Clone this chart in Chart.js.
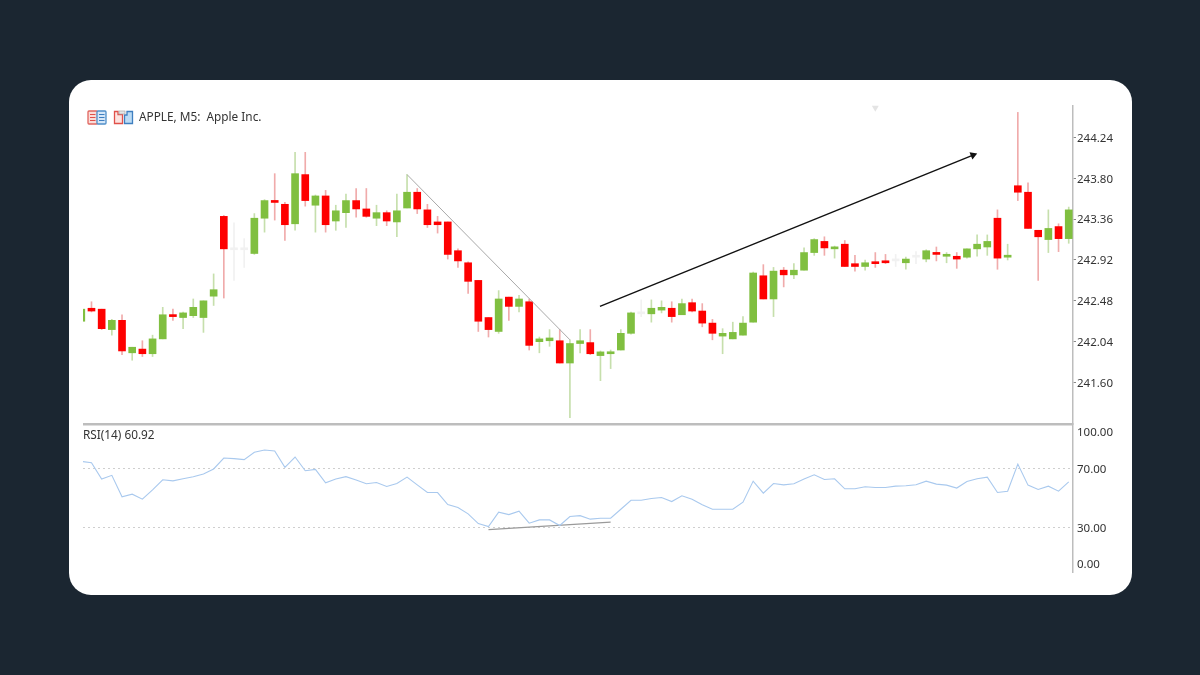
<!DOCTYPE html>
<html>
<head>
<meta charset="utf-8">
<title>APPLE, M5</title>
<script src="https://cdn.jsdelivr.net/npm/chart.js@4/dist/chart.umd.min.js"></script>
<style>
  html, body { margin: 0; height: 100%; background: #1b2631; overflow: hidden; }
  #card { position: absolute; left: 69px; top: 80px; width: 1063px; height: 515px; background: #fff; border-radius: 22px; }
  canvas { position: absolute; left: 0; top: 0; }
  .label { position: absolute; font: 11.8px "Noto Sans", sans-serif; color: #333; white-space: pre; }
  svg { position: absolute; }
</style>
</head>
<body>
<div id="card"></div>
<canvas id="chart" width="1200" height="675"></canvas>
<svg style="left:87px;top:110px" width="47" height="15" viewBox="0 0 47 15">
  <rect x="1" y="1" width="9.5" height="13" rx="1" fill="#fbdcd8" stroke="#e0655f" stroke-width="1.3"/>
  <rect x="10" y="1" width="9" height="13" rx="1" fill="#d5e7f8" stroke="#4f8fc9" stroke-width="1.3"/>
  <path d="M3 4.5h5.5M3 7.5h5.5M3 10.5h5.5" stroke="#e0504a" stroke-width="1.2"/>
  <path d="M12 4.5h5.5M12 7.5h5.5M12 10.5h5.5" stroke="#3f7fc0" stroke-width="1.2"/>
  <path d="M27.5 1.5h3.5v3h4.5v9h-8z" fill="#fde3e0" stroke="#e0504a" stroke-width="1.3"/>
  <path d="M37.5 5h2.5v-3.5h5.5v12h-8z" fill="#bcdcf5" stroke="#3f7fc0" stroke-width="1.3"/>
  <rect x="32" y="1" width="6" height="3" fill="#e6e6e6" stroke="#aaa" stroke-width=".7"/>
</svg>
<div class="label" style="left:139px;top:108px">APPLE, M5:  Apple Inc.</div>
<div class="label" style="left:83px;top:426px">RSI(14) 60.92</div>
<script>
// candles
const opens = [
  242.26,242.40,242.39,242.17,242.27,241.92,241.96,241.91,242.07,242.33,
  242.30,242.32,242.30,242.53,243.39,243.03,243.03,242.99,243.37,243.56,
  243.52,243.31,243.84,243.51,243.61,243.34,243.43,243.56,243.47,243.37,
  243.43,243.33,243.48,243.65,243.46,243.33,243.33,243.02,242.89,242.70,
  242.30,242.15,242.52,242.42,242.47,242.04,242.05,242.05,241.81,242.02,
  242.03,241.89,241.91,241.95,242.13,242.34,242.34,242.38,242.40,242.33,
  242.46,242.37,242.24,242.10,242.07,242.11,242.25,242.75,242.50,242.81,
  242.76,242.81,243.00,243.12,243.04,243.09,242.88,242.85,242.90,242.90,
  242.91,242.89,242.95,242.93,243.00,242.96,242.96,242.95,243.04,243.06,
  243.37,242.95,243.72,243.65,243.24,243.14,243.28,243.15
];
const highs = [
  242.39,242.47,242.39,242.28,242.33,241.98,242.05,242.11,242.41,242.39,
  242.36,242.50,242.48,242.77,243.40,243.32,243.15,243.42,243.57,243.85,
  243.54,244.08,244.08,243.62,243.67,243.51,243.63,243.69,243.69,243.51,
  243.45,243.63,243.84,243.69,243.52,243.39,243.33,243.04,242.90,242.70,
  242.30,242.59,242.52,242.54,242.50,242.09,242.17,242.17,242.06,242.17,
  242.17,241.94,241.95,242.17,242.36,242.49,242.49,242.48,242.47,242.50,
  242.50,242.45,242.28,242.18,242.25,242.31,242.79,242.87,242.84,242.84,
  242.88,243.05,243.15,243.17,243.07,243.13,242.97,242.92,243.00,242.98,
  242.98,242.95,243.01,243.03,243.06,243.00,243.00,243.04,243.19,243.19,
  243.46,243.09,244.51,243.75,243.24,243.46,243.31,243.49
];
const lows = [
  242.26,242.36,242.17,242.11,241.90,241.84,241.88,241.88,242.07,242.27,
  242.18,242.30,242.14,242.43,242.51,242.70,242.84,242.98,243.22,243.35,
  243.13,243.24,243.50,243.22,243.22,243.24,243.27,243.38,243.38,243.29,
  243.29,243.17,243.48,243.42,243.27,243.21,242.93,242.84,242.56,242.15,
  242.09,242.13,242.27,242.36,241.95,241.92,241.99,241.81,241.22,241.92,
  241.90,241.62,241.75,241.95,242.12,242.31,242.25,242.35,242.25,242.33,
  242.36,242.20,242.06,241.91,242.07,242.11,242.25,242.50,242.31,242.63,
  242.72,242.81,242.97,242.97,242.94,242.85,242.80,242.81,242.84,242.88,
  242.85,242.82,242.88,242.90,242.91,242.89,242.83,242.94,242.96,242.97,
  242.82,242.92,243.56,243.26,242.70,243.00,243.01,243.10
];
const closes = [
  242.39,242.37,242.18,242.27,241.94,241.98,241.91,242.07,242.33,242.31,
  242.35,242.41,242.48,242.60,243.04,243.03,243.03,243.37,243.56,243.54,
  243.30,243.85,243.56,243.61,243.30,243.45,243.56,243.47,243.39,243.43,
  243.34,243.45,243.65,243.47,243.30,243.30,242.98,242.91,242.69,242.26,
  242.17,242.50,242.42,242.50,242.00,242.07,242.08,241.81,242.02,242.05,
  241.91,241.93,241.93,242.13,242.35,242.34,242.40,242.41,242.31,242.45,
  242.37,242.24,242.13,242.13,242.14,242.24,242.78,242.50,242.80,242.76,
  242.81,243.00,243.14,243.05,243.06,242.85,242.85,242.89,242.88,242.89,
  242.91,242.93,242.95,243.02,242.98,242.98,242.93,243.04,243.09,243.12,
  242.94,242.96,243.65,243.26,243.17,243.26,243.15,243.46
];
const rsiValues = [
  74.7,73.8,62.8,65.3,50.8,52.6,49.2,55.5,62.3,61.6,
  63.0,64.4,66.2,69.6,77.0,76.6,75.9,80.9,82.4,81.8,
  70.7,77.7,68.4,69.3,60.3,62.8,64.4,62.1,59.6,60.5,
  57.8,59.8,64.1,58.9,53.7,53.7,45.6,43.6,39.3,32.7,
  30.7,40.4,38.8,41.1,33.0,35.2,35.2,31.4,37.5,38.1,
  35.7,36.3,36.3,42.4,48.5,48.5,49.7,50.3,47.6,51.5,
  49.2,45.4,42.4,42.4,42.4,47.2,61.4,53.3,59.8,58.9,
  59.6,62.8,65.7,62.5,63.0,56.2,56.2,57.6,57.1,57.1,
  58.0,58.3,58.9,61.4,59.4,58.7,56.7,61.2,63.0,64.1,
  53.7,54.6,72.9,58.7,55.8,58.0,54.6,60.92
];
const priceTicks = [244.24, 243.80, 243.36, 242.92, 242.48, 242.04, 241.60];
const rsiTicks = [100, 70, 30, 0];

// drawn lines: [bar index, value]
const fallLine = [[32, 243.84], [48, 242.06]];
const riseArrow = [[50.95, 242.42], [87.6, 244.05]];
const rsiLine = [[40, 28.6], [52, 33.7]];
const topMarker = [[78, 244.56]];

const RED = '#fe0000', GREEN = '#80bf40';
const isGhost = i => opens[i] === closes[i];
const toPoints = a => a.map(p => ({ x: p[0], y: p[1] }));

const wickColor = ctx => {
  const i = ctx.dataIndex;
  if (isGhost(i)) return '#f1f1f1';
  return closes[i] > opens[i] ? '#c6dfac' : '#f0abab';
};
const bodyColor = ctx => {
  const i = ctx.dataIndex;
  if (isGhost(i)) return '#f1f1f1';
  return closes[i] > opens[i] ? GREEN : RED;
};

// the RSI pane pushes its end labels inside the pane
const rsiLabels = {
  id: 'rsiLabels',
  afterDraw(chart) {
    const { ctx, scales } = chart;
    const s = scales.yRsi;
    ctx.save();
    ctx.font = '11.5px "Noto Sans", sans-serif';
    ctx.fillStyle = '#333';
    ctx.textBaseline = 'middle';
    s.ticks.forEach(t => {
      const y = Math.min(Math.max(s.getPixelForValue(t.value), s.top + 8), s.bottom - 8);
      ctx.fillText(t.value.toFixed(2), s.left + 4, y + 1);
    });
    // divider between the panes
    ctx.fillStyle = '#bdbdbd';
    ctx.fillRect(chart.chartArea.left, scales.yPrice.bottom - 1, chart.chartArea.width, 2.5);
    ctx.restore();
  }
};

new Chart(document.getElementById('chart'), {
  data: {
    datasets: [
      {
        type: 'bar', xAxisID: 'x', yAxisID: 'yPrice', grouped: false, barThickness: 1,
        data: highs.map((h, i) => ({ x: i, y: [lows[i], h] })),
        backgroundColor: wickColor, order: 3
      },
      {
        type: 'bar', xAxisID: 'x', yAxisID: 'yPrice', grouped: false, barThickness: 7, minBarLength: 2,
        data: opens.map((o, i) => ({ x: i, y: [o, closes[i]] })),
        backgroundColor: bodyColor, order: 2
      },
      {
        type: 'line', xAxisID: 'x', yAxisID: 'yPrice', data: toPoints(fallLine),
        borderColor: '#a8a8a8', borderWidth: 1, pointRadius: 0, order: 1
      },
      {
        type: 'line', xAxisID: 'x', yAxisID: 'yPrice', data: toPoints(riseArrow),
        borderColor: '#111', borderWidth: 1.4, order: 1,
        pointStyle: 'triangle', pointRadius: [0, 4.5], pointRotation: 68,
        pointBackgroundColor: '#111', pointBorderWidth: 0
      },
      {
        type: 'line', xAxisID: 'x', yAxisID: 'yPrice', data: toPoints(topMarker), clip: false,
        showLine: false, pointStyle: 'triangle', pointRadius: 4, pointRotation: 180,
        pointBackgroundColor: '#e4e4e4', pointBorderWidth: 0
      },
      {
        type: 'line', xAxisID: 'x', yAxisID: 'yRsi',
        data: rsiValues.map((v, i) => ({ x: i, y: v })),
        borderColor: '#a9c9ee', borderWidth: 1.1, pointRadius: 0, tension: 0
      },
      {
        type: 'line', xAxisID: 'x', yAxisID: 'yRsi', data: toPoints(rsiLine),
        borderColor: '#9a9a9a', borderWidth: 1.3, pointRadius: 0
      }
    ]
  },
  options: {
    responsive: false,
    animation: false,
    layout: { padding: { left: 83, top: 106, bottom: 103, right: 0 } },
    plugins: { legend: { display: false }, tooltip: { enabled: false } },
    scales: {
      x: { type: 'linear', display: false, offset: false, min: 0.167, max: 97.42 },
      yPrice: {
        position: 'right', stack: 'panes', stackWeight: 318,
        min: 241.153, max: 244.579,
        afterBuildTicks: s => { s.ticks = priceTicks.map(v => ({ value: v })); },
        afterFit: s => { s.width = 127; },
        border: { color: '#bdbdbd', width: 1.5 },
        grid: { drawOnChartArea: false, tickLength: 3, tickColor: '#888' },
        ticks: {
          color: '#333', padding: 1, maxRotation: 0, labelOffset: 1,
          font: { family: '"Noto Sans", sans-serif', size: 11.5 },
          callback: v => v.toFixed(2)
        }
      },
      yRsi: {
        position: 'right', stack: 'panes', stackWeight: 148,
        min: 0, max: 100,
        afterBuildTicks: s => { s.ticks = rsiTicks.map(v => ({ value: v })); },
        afterFit: s => { s.width = 127; },
        border: { color: '#bdbdbd', width: 1.5, dash: [2, 3] },
        grid: {
          drawTicks: false,
          color: ctx => (ctx.tick && (ctx.tick.value === 70 || ctx.tick.value === 30)) ? '#cfcfcf' : 'transparent'
        },
        ticks: { display: false }
      }
    }
  },
  plugins: [rsiLabels]
});
</script>
</body>
</html>
